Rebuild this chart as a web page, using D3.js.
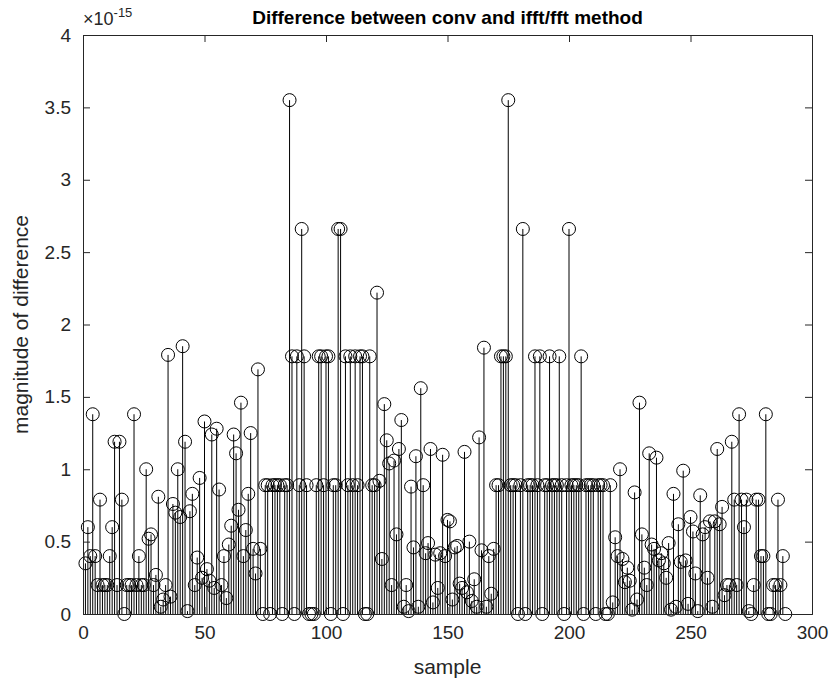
<!DOCTYPE html>
<html><head><meta charset="utf-8">
<script src="https://cdn.jsdelivr.net/npm/d3@7"></script>
<style>
body{margin:0;background:#fff;}
text{font-family:"Liberation Sans",Arial,Helvetica,sans-serif;}
</style></head>
<body><svg id="chart" width="834" height="688"></svg>
<script>
// values in units of 1e-15, samples 1..289
const values = [
 0.35,0.60,0.40,1.38,0.40,0.20,0.79,0.20,0.20,0.20,
 0.40,0.60,1.19,0.20,1.19,0.79,0.00,0.20,0.20,0.20,
 1.38,0.20,0.40,0.20,0.20,1.00,0.52,0.55,0.20,0.27,
 0.81,0.05,0.10,0.20,1.79,0.12,0.76,0.70,1.00,0.67,
 1.85,1.19,0.02,0.71,0.83,0.20,0.39,0.94,0.25,1.33,
 0.31,0.23,1.24,0.18,1.28,0.86,0.20,0.40,0.11,0.48,
 0.61,1.24,1.11,0.72,1.46,0.40,0.58,0.83,1.25,0.45,
 0.28,1.69,0.45,0.00,0.89,0.89,0.00,0.89,0.89,0.89,
 0.89,0.00,0.89,0.89,3.55,1.78,0.00,1.78,0.89,2.66,
 1.78,0.89,0.00,0.00,0.00,0.89,1.78,1.78,0.89,1.78,
 1.78,0.00,0.89,0.89,2.66,2.66,0.00,1.78,0.89,1.78,
 0.89,1.78,0.89,1.78,1.78,0.00,0.00,1.78,0.89,0.89,
 2.22,0.92,0.38,1.45,1.20,1.04,0.20,1.06,0.55,1.14,
 1.34,0.05,0.20,0.02,0.88,0.46,1.09,0.05,1.56,0.89,
 0.42,0.49,1.14,0.08,0.41,0.18,0.42,1.10,0.40,0.65,
 0.64,0.10,0.46,0.47,0.21,0.18,1.12,0.15,0.50,0.09,
 0.24,0.05,1.22,0.44,1.84,0.05,0.40,0.14,0.45,0.89,
 0.89,1.78,1.78,1.78,3.55,0.89,0.89,0.89,0.00,0.89,
 2.66,0.00,0.89,0.89,0.89,1.78,0.89,1.78,0.00,0.89,
 0.89,1.78,0.89,0.89,0.89,1.78,0.89,0.00,0.89,2.66,
 0.89,0.89,0.89,0.89,1.78,0.00,0.89,0.89,0.89,0.89,
 0.00,0.89,0.89,0.89,0.00,0.00,0.89,0.08,0.53,0.40,
 1.00,0.38,0.22,0.32,0.23,0.03,0.84,0.10,1.46,0.55,
 0.32,0.20,1.11,0.48,0.45,1.08,0.37,0.42,0.35,0.25,
 0.49,0.03,0.83,0.05,0.62,0.36,0.99,0.37,0.07,0.67,
 0.57,0.28,0.02,0.82,0.55,0.60,0.25,0.64,0.05,0.64,
 1.14,0.62,0.74,0.13,0.20,0.20,1.19,0.79,0.20,1.38,
 0.79,0.60,0.79,0.02,0.00,0.20,0.79,0.79,0.40,0.40,
 1.38,0.00,0.00,0.20,0.20,0.79,0.20,0.40,0.00
];
const samples = values.map((v,i)=>i+1);
const xTicks = [0,50,100,150,200,250,300];
const yTicks = [0,0.5,1,1.5,2,2.5,3,3.5,4];
const titleText = "Difference between conv and ifft/fft method";
const xLabel = "sample";
const yLabel = "magnitude of difference";

const svg = d3.select("#chart");
const L=83, R=812, T=35, B=614;
const x = d3.scaleLinear().domain([0,300]).range([L,R]);
const y = d3.scaleLinear().domain([0,4]).range([B,T]);
const axisColor = "#262626";
const tl = 7;

// stems
const g = svg.append("g");
g.selectAll("line.stem").data(values).join("line")
  .attr("class","stem")
  .attr("x1",(d,i)=>x(samples[i])).attr("x2",(d,i)=>x(samples[i]))
  .attr("y1",y(0)).attr("y2",d=>y(d))
  .attr("stroke","#000").attr("stroke-width",1);
g.selectAll("circle").data(values).join("circle")
  .attr("cx",(d,i)=>x(samples[i])).attr("cy",d=>y(d))
  .attr("r",6.5).attr("fill","none").attr("stroke","#000").attr("stroke-width",1);

// axes
const fs = 19;
const xb = svg.append("g").attr("transform",`translate(0,${B})`)
  .call(d3.axisBottom(x).tickValues(xTicks).tickSize(-tl).tickPadding(12).tickFormat(d3.format("d")));
const xt = svg.append("g").attr("transform",`translate(0,${T})`)
  .call(d3.axisTop(x).tickValues(xTicks).tickSize(-tl).tickFormat(""));
const yl = svg.append("g").attr("transform",`translate(${L},0)`)
  .call(d3.axisLeft(y).tickValues(yTicks).tickSize(-tl).tickPadding(12).tickFormat(d=>d3.format("")(d)));
const yr = svg.append("g").attr("transform",`translate(${R},0)`)
  .call(d3.axisRight(y).tickValues(yTicks).tickSize(-tl).tickFormat(""));
[xb,xt,yl,yr].forEach(a=>{
  a.select(".domain").attr("stroke",axisColor).attr("stroke-width",1);
  a.selectAll(".tick line").attr("stroke",axisColor).attr("stroke-width",1);
  a.selectAll(".tick text").attr("fill",axisColor).style("font-size",fs+"px")
   .style("font-family","'Liberation Sans',Arial,sans-serif");
});
xb.selectAll(".tick text").attr("dy","0.71em");

// exponent
const ex = svg.append("text").attr("x",L).attr("y",25).attr("fill",axisColor)
  .style("font-size","18px");
ex.append("tspan").text("\u00d710");
ex.append("tspan").attr("dy",-8).style("font-size","13px").text("-15");

// title
svg.append("text").attr("x",(L+R)/2).attr("y",24).attr("text-anchor","middle")
  .style("font-size","19px").style("font-weight","bold").attr("fill","#000").text(titleText);
svg.append("text").attr("x",(L+R)/2).attr("y",674).attr("text-anchor","middle")
  .style("font-size","21px").attr("fill",axisColor).text(xLabel);
svg.append("text").attr("transform",`translate(28,${(T+B)/2}) rotate(-90)`).attr("text-anchor","middle")
  .style("font-size","21px").attr("fill",axisColor).text(yLabel);
</script></body></html>
